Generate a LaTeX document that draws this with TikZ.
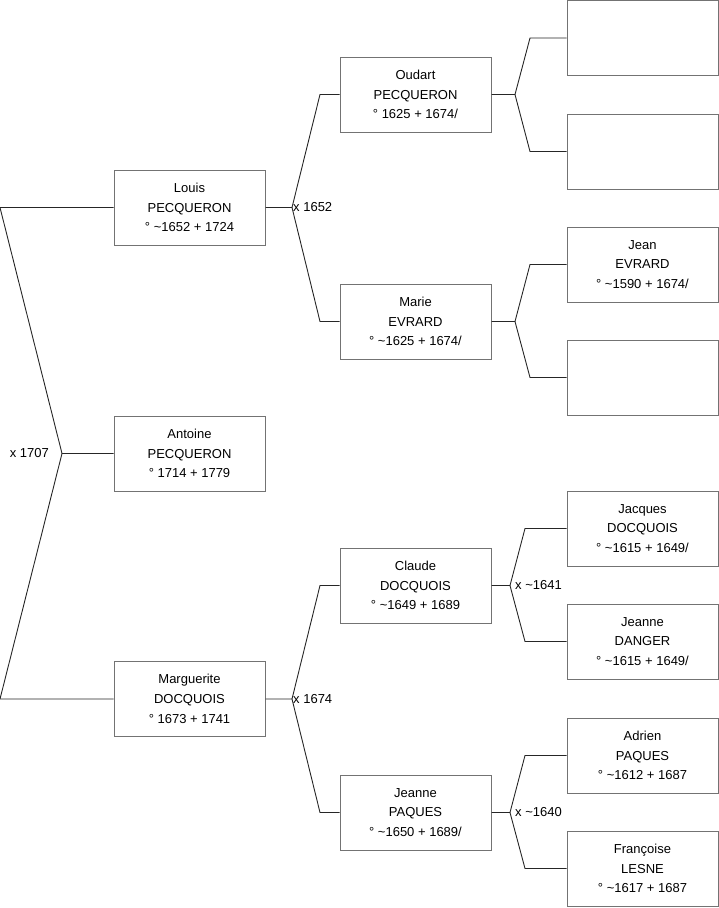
\documentclass[tikz,border=0pt]{standalone}
\usepackage{fontspec}
\setmainfont{Liberation Sans}
\usetikzlibrary{positioning}

\begin{document}
\begin{tikzpicture}[
    x=1pt, y=-1pt,
    person/.style={rectangle, draw=black!55, line width=1pt, minimum width=151pt, minimum height=75pt, inner sep=0pt, align=center, font=\fontsize{13}{19.7}\selectfont},
    link/.style={draw=black!85, line width=0.9pt},
    marriage/.style={font=\fontsize{13}{15}\selectfont, inner sep=1pt},
]
    \useasboundingbox (0,0) rectangle (719,908);

    % Generation 1
    \node[person] (antoine) at (189.5, 453.5) {Antoine\\PECQUERON\\° 1714 + 1779};

    % Generation 2
    \node[person] (louis) at (189.5, 207.5) {Louis\\PECQUERON\\° \textasciitilde1652 + 1724};
    \node[person] (marguerite) at (189.5, 699) {Marguerite\\DOCQUOIS\\° 1673 + 1741};

    % Generation 3
    \node[person] (oudart) at (415.5, 94.5) {Oudart\\PECQUERON\\° 1625 + 1674/};
    \node[person] (marie) at (415.5, 321.5) {Marie\\EVRARD\\° \textasciitilde1625 + 1674/};
    \node[person] (claude) at (415.5, 585.5) {Claude\\DOCQUOIS\\° \textasciitilde1649 + 1689};
    \node[person] (jeannep) at (415.5, 812.5) {Jeanne\\PAQUES\\° \textasciitilde1650 + 1689/};

    % Generation 4
    \node[person] (ofather) at (642.5, 38) {};
    \node[person] (omother) at (642.5, 151.5) {};
    \node[person] (jean) at (642.5, 264.5) {Jean\\EVRARD\\° \textasciitilde1590 + 1674/};
    \node[person] (mmother) at (642.5, 377.5) {};
    \node[person] (jacques) at (642.5, 528.5) {Jacques\\DOCQUOIS\\° \textasciitilde1615 + 1649/};
    \node[person] (jeanned) at (642.5, 641.5) {Jeanne\\DANGER\\° \textasciitilde1615 + 1649/};
    \node[person] (adrien) at (642.5, 755.5) {Adrien\\PAQUES\\° \textasciitilde1612 + 1687};
    \node[person] (francoise) at (642.5, 868.5) {Françoise\\LESNE\\° \textasciitilde1617 + 1687};

    % Junctions and bends
    \coordinate (j0) at (62, 453.5);
    \coordinate (b0u) at (0, 207.5);
    \coordinate (b0d) at (0, 699);

    \coordinate (j1) at (292, 207.5);
    \coordinate (b1u) at (320, 94.5);
    \coordinate (b1d) at (320, 321.5);
    \coordinate (j2) at (292, 699);
    \coordinate (b2u) at (320, 585.5);
    \coordinate (b2d) at (320, 812.5);

    \coordinate (j3) at (515, 94.5);
    \coordinate (b3u) at (530, 38);
    \coordinate (b3d) at (530, 151.5);
    \coordinate (j4) at (515, 321.5);
    \coordinate (b4u) at (530, 264.5);
    \coordinate (b4d) at (530, 377.5);
    \coordinate (j5) at (510, 585.5);
    \coordinate (b5u) at (525, 528.5);
    \coordinate (b5d) at (525, 641.5);
    \coordinate (j6) at (510, 812.5);
    \coordinate (b6u) at (525, 755.5);
    \coordinate (b6d) at (525, 868.5);

    % Connectors
    \draw[link] (antoine.west) -- (j0) -- (b0u) -- (louis.west);
    \draw[link] (j0) -- (b0d) -- (marguerite.west);

    \draw[link] (louis.east) -- (j1) -- (b1u) -- (oudart.west);
    \draw[link] (j1) -- (b1d) -- (marie.west);
    \draw[link] (marguerite.east) -- (j2) -- (b2u) -- (claude.west);
    \draw[link] (j2) -- (b2d) -- (jeannep.west);

    \draw[link] (oudart.east) -- (j3) -- (b3u) -- (ofather.west);
    \draw[link] (j3) -- (b3d) -- (omother.west);
    \draw[link] (marie.east) -- (j4) -- (b4u) -- (jean.west);
    \draw[link] (j4) -- (b4d) -- (mmother.west);
    \draw[link] (claude.east) -- (j5) -- (b5u) -- (jacques.west);
    \draw[link] (j5) -- (b5d) -- (jeanned.west);
    \draw[link] (jeannep.east) -- (j6) -- (b6u) -- (adrien.west);
    \draw[link] (j6) -- (b6d) -- (francoise.west);

    % Marriages
    \node[marriage, left=12pt] (m0) at (j0) {x 1707};
    \node[marriage, right=0pt] (m1) at (j1) {x 1652};
    \node[marriage, right=0pt] (m2) at (j2) {x 1674};
    \node[marriage, right=4pt] (m5) at (j5) {x \textasciitilde1641};
    \node[marriage, right=4pt] (m6) at (j6) {x \textasciitilde1640};
\end{tikzpicture}
\end{document}
